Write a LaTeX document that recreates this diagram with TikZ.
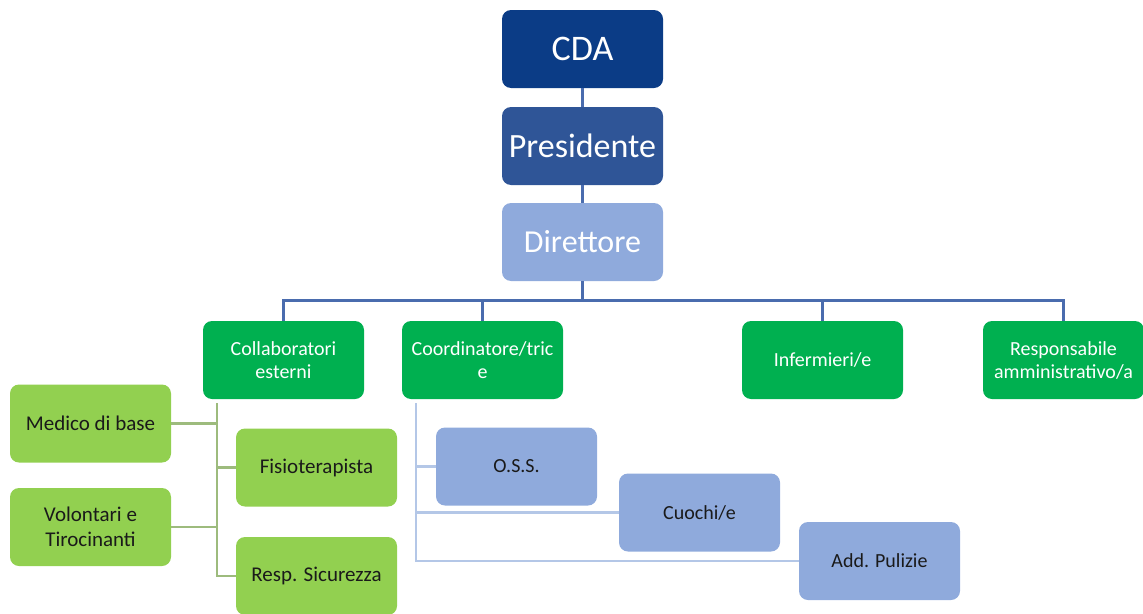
\documentclass[tikz,border=0pt]{standalone}
\usepackage{fontspec}
\setmainfont{Carlito}
\usetikzlibrary{calc}
\definecolor{cdablue}{HTML}{0B3C86}
\definecolor{presblue}{HTML}{2F5597}
\definecolor{lav}{HTML}{8FAADC}
\definecolor{dgreen}{HTML}{00B050}
\definecolor{lgreen}{HTML}{92D050}
\definecolor{busblue}{HTML}{4A6CAE}
\definecolor{gline}{HTML}{9DBB7D}
\definecolor{lline}{HTML}{B4C7E7}
\definecolor{txt}{HTML}{1A1A1A}
\tikzset{
  box/.style={rounded corners=9pt, minimum width=161pt, minimum height=78pt, inner sep=2pt, align=center},
  topbox/.style={box, text=white},
  gbox/.style={box, fill=dgreen, text=white, font=\fontsize{20}{23}\selectfont},
  lgbox/.style={box, fill=lgreen, text=txt, font=\fontsize{21}{25}\selectfont},
  lavbox/.style={box, fill=lav, text=txt, font=\fontsize{20}{24}\selectfont},
  bus/.style={draw=busblue, line width=3pt},
  glink/.style={draw=gline, line width=2.2pt},
  llink/.style={draw=lline, line width=2.2pt}
}
\begin{document}
\begin{tikzpicture}[x=1pt,y=-1pt]
\useasboundingbox (0,0) rectangle (1143,613);
% top chain
\node[topbox, fill=cdablue, font=\fontsize{36}{40}\selectfont] (cda) at (582.5,49) {CDA};
\node[topbox, fill=presblue, font=\fontsize{34}{38}\selectfont] (pres) at (582.5,146) {Presidente};
\node[topbox, fill=lav, font=\fontsize{32}{36}\selectfont] (dir) at (582.5,242) {Direttore};
% second level
\node[gbox] (collab) at (283.5,360) {Collaboratori\\esterni};
\node[gbox] (coord) at (482.5,360) {Coordinatore/tric\\e};
\node[gbox] (inf) at (822.5,360) {Infermieri/e};
\node[gbox] (resp) at (1063.5,360) {Responsabile\\amministrativo/a};
% collaboratori children
\node[lgbox] (medico) at (90.5,423.5) {Medico di base};
\node[lgbox] (volont) at (90.5,527) {Volontari e\\Tirocinanti};
\node[lgbox] (fisio) at (316.5,467.5) {Fisioterapista};
\node[lgbox] (sicur) at (316.5,576) {Resp. Sicurezza};
% coordinatore children
\node[lavbox] (oss) at (516.5,466.5) {O.S.S.};
\node[lavbox] (cuochi) at (699.5,512.5) {Cuochi/e};
\node[lavbox] (pulizie) at (879.5,561) {Add. Pulizie};
% top links
\draw[bus] (cda.south) -- (pres.north);
\draw[bus] (pres.south) -- (dir.north);
\draw[bus] (dir.south) -- ++(0,19) -| (collab.north);
\draw[bus] (dir.south) -- ++(0,19) -| (coord.north);
\draw[bus] (dir.south) -- ++(0,19) -| (inf.north);
\draw[bus] (dir.south) -- ++(0,19) -| (resp.north);
% collaboratori links
\coordinate (cv) at ($(collab.south west)+(14,4)$);
\draw[glink] (cv) |- (fisio.west);
\draw[glink] (cv) |- (sicur.west);
\draw[glink] (medico.east) -| (cv);
\draw[glink] (volont.east) -| (cv);
% coordinatore links
\coordinate (kv) at ($(coord.south west)+(14,4)$);
\draw[llink] (kv) |- (oss.west);
\draw[llink] (kv) |- (cuochi.west);
\draw[llink] (kv) |- (pulizie.west);
\end{tikzpicture}
\end{document}
